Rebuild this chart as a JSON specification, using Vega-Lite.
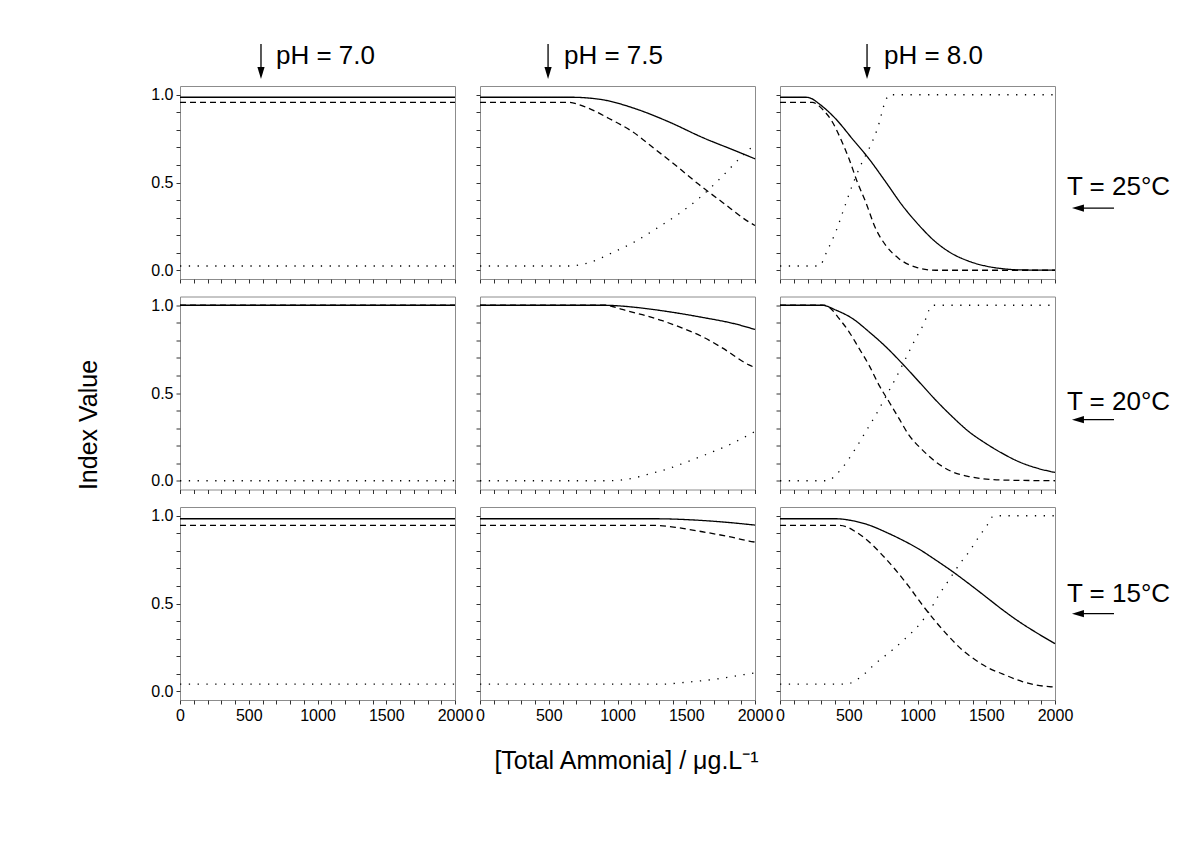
{
  "$schema": "https://vega.github.io/schema/vega-lite/v6.json",
  "padding": {"left": 76, "top": 42, "right": 5, "bottom": 5},
  "background": "white",
  "datasets": {
    "curves": [
      {"pH":"7.0","T":25,"s":"A","x":0,"v":0.986},{"pH":"7.0","T":25,"s":"A","x":2000,"v":0.986},
      {"pH":"7.0","T":25,"s":"B","x":0,"v":0.957},{"pH":"7.0","T":25,"s":"B","x":2000,"v":0.957},
      {"pH":"7.0","T":25,"s":"C","x":0,"v":0.024},{"pH":"7.0","T":25,"s":"C","x":2000,"v":0.024},

      {"pH":"7.5","T":25,"s":"A","x":0,"v":0.986},{"pH":"7.5","T":25,"s":"A","x":660,"v":0.986},{"pH":"7.5","T":25,"s":"A","x":780,"v":0.982},{"pH":"7.5","T":25,"s":"A","x":890,"v":0.972},{"pH":"7.5","T":25,"s":"A","x":1132,"v":0.92},{"pH":"7.5","T":25,"s":"A","x":1375,"v":0.845},{"pH":"7.5","T":25,"s":"A","x":1617,"v":0.757},{"pH":"7.5","T":25,"s":"A","x":1860,"v":0.68},{"pH":"7.5","T":25,"s":"A","x":2000,"v":0.635},
      {"pH":"7.5","T":25,"s":"B","x":0,"v":0.957},{"pH":"7.5","T":25,"s":"B","x":640,"v":0.957},{"pH":"7.5","T":25,"s":"B","x":769,"v":0.93},{"pH":"7.5","T":25,"s":"B","x":938,"v":0.865},{"pH":"7.5","T":25,"s":"B","x":1108,"v":0.79},{"pH":"7.5","T":25,"s":"B","x":1265,"v":0.695},{"pH":"7.5","T":25,"s":"B","x":1435,"v":0.59},{"pH":"7.5","T":25,"s":"B","x":1593,"v":0.488},{"pH":"7.5","T":25,"s":"B","x":1762,"v":0.388},{"pH":"7.5","T":25,"s":"B","x":1956,"v":0.275},{"pH":"7.5","T":25,"s":"B","x":2000,"v":0.255},
      {"pH":"7.5","T":25,"s":"C","x":0,"v":0.024},{"pH":"7.5","T":25,"s":"C","x":640,"v":0.024},{"pH":"7.5","T":25,"s":"C","x":793,"v":0.043},{"pH":"7.5","T":25,"s":"C","x":962,"v":0.1},{"pH":"7.5","T":25,"s":"C","x":1132,"v":0.165},{"pH":"7.5","T":25,"s":"C","x":1277,"v":0.235},{"pH":"7.5","T":25,"s":"C","x":1447,"v":0.322},{"pH":"7.5","T":25,"s":"C","x":1593,"v":0.41},{"pH":"7.5","T":25,"s":"C","x":1762,"v":0.535},{"pH":"7.5","T":25,"s":"C","x":1860,"v":0.615},{"pH":"7.5","T":25,"s":"C","x":1976,"v":0.7},{"pH":"7.5","T":25,"s":"C","x":2000,"v":0.715},

      {"pH":"8.0","T":25,"s":"A","x":0,"v":0.986},{"pH":"8.0","T":25,"s":"A","x":187,"v":0.986},{"pH":"8.0","T":25,"s":"A","x":230,"v":0.978},{"pH":"8.0","T":25,"s":"A","x":284,"v":0.949},{"pH":"8.0","T":25,"s":"A","x":405,"v":0.863},{"pH":"8.0","T":25,"s":"A","x":526,"v":0.749},{"pH":"8.0","T":25,"s":"A","x":647,"v":0.635},{"pH":"8.0","T":25,"s":"A","x":769,"v":0.503},{"pH":"8.0","T":25,"s":"A","x":889,"v":0.37},{"pH":"8.0","T":25,"s":"A","x":1011,"v":0.256},{"pH":"8.0","T":25,"s":"A","x":1132,"v":0.161},{"pH":"8.0","T":25,"s":"A","x":1253,"v":0.094},{"pH":"8.0","T":25,"s":"A","x":1375,"v":0.051},{"pH":"8.0","T":25,"s":"A","x":1496,"v":0.024},{"pH":"8.0","T":25,"s":"A","x":1617,"v":0.009},{"pH":"8.0","T":25,"s":"A","x":1738,"v":0.002},{"pH":"8.0","T":25,"s":"A","x":2000,"v":0.0},
      {"pH":"8.0","T":25,"s":"B","x":0,"v":0.957},{"pH":"8.0","T":25,"s":"B","x":235,"v":0.957},{"pH":"8.0","T":25,"s":"B","x":270,"v":0.945},{"pH":"8.0","T":25,"s":"B","x":308,"v":0.918},{"pH":"8.0","T":25,"s":"B","x":381,"v":0.845},{"pH":"8.0","T":25,"s":"B","x":441,"v":0.749},{"pH":"8.0","T":25,"s":"B","x":502,"v":0.635},{"pH":"8.0","T":25,"s":"B","x":562,"v":0.503},{"pH":"8.0","T":25,"s":"B","x":623,"v":0.389},{"pH":"8.0","T":25,"s":"B","x":696,"v":0.237},{"pH":"8.0","T":25,"s":"B","x":769,"v":0.142},{"pH":"8.0","T":25,"s":"B","x":865,"v":0.066},{"pH":"8.0","T":25,"s":"B","x":987,"v":0.018},{"pH":"8.0","T":25,"s":"B","x":1132,"v":0.0},{"pH":"8.0","T":25,"s":"B","x":2000,"v":0.0},
      {"pH":"8.0","T":25,"s":"C","x":0,"v":0.024},{"pH":"8.0","T":25,"s":"C","x":284,"v":0.024},{"pH":"8.0","T":25,"s":"C","x":344,"v":0.113},{"pH":"8.0","T":25,"s":"C","x":405,"v":0.218},{"pH":"8.0","T":25,"s":"C","x":465,"v":0.35},{"pH":"8.0","T":25,"s":"C","x":526,"v":0.484},{"pH":"8.0","T":25,"s":"C","x":587,"v":0.598},{"pH":"8.0","T":25,"s":"C","x":647,"v":0.692},{"pH":"8.0","T":25,"s":"C","x":708,"v":0.806},{"pH":"8.0","T":25,"s":"C","x":769,"v":0.968},{"pH":"8.0","T":25,"s":"C","x":793,"v":1.0},{"pH":"8.0","T":25,"s":"C","x":2000,"v":1.0},

      {"pH":"7.0","T":20,"s":"A","x":0,"v":1.0},{"pH":"7.0","T":20,"s":"A","x":2000,"v":1.0},
      {"pH":"7.0","T":20,"s":"B","x":0,"v":1.0},{"pH":"7.0","T":20,"s":"B","x":2000,"v":1.0},
      {"pH":"7.0","T":20,"s":"C","x":0,"v":0.0},{"pH":"7.0","T":20,"s":"C","x":2000,"v":0.0},

      {"pH":"7.5","T":20,"s":"A","x":0,"v":1.0},{"pH":"7.5","T":20,"s":"A","x":914,"v":1.0},{"pH":"7.5","T":20,"s":"A","x":1020,"v":0.996},{"pH":"7.5","T":20,"s":"A","x":1132,"v":0.988},{"pH":"7.5","T":20,"s":"A","x":1375,"v":0.963},{"pH":"7.5","T":20,"s":"A","x":1617,"v":0.931},{"pH":"7.5","T":20,"s":"A","x":1860,"v":0.893},{"pH":"7.5","T":20,"s":"A","x":2000,"v":0.862},
      {"pH":"7.5","T":20,"s":"B","x":0,"v":1.0},{"pH":"7.5","T":20,"s":"B","x":914,"v":1.0},{"pH":"7.5","T":20,"s":"B","x":1035,"v":0.976},{"pH":"7.5","T":20,"s":"B","x":1180,"v":0.946},{"pH":"7.5","T":20,"s":"B","x":1326,"v":0.912},{"pH":"7.5","T":20,"s":"B","x":1472,"v":0.87},{"pH":"7.5","T":20,"s":"B","x":1617,"v":0.821},{"pH":"7.5","T":20,"s":"B","x":1762,"v":0.757},{"pH":"7.5","T":20,"s":"B","x":1956,"v":0.66},{"pH":"7.5","T":20,"s":"B","x":2000,"v":0.645},
      {"pH":"7.5","T":20,"s":"C","x":0,"v":0.0},{"pH":"7.5","T":20,"s":"C","x":938,"v":0.0},{"pH":"7.5","T":20,"s":"C","x":1084,"v":0.01},{"pH":"7.5","T":20,"s":"C","x":1229,"v":0.038},{"pH":"7.5","T":20,"s":"C","x":1375,"v":0.07},{"pH":"7.5","T":20,"s":"C","x":1520,"v":0.112},{"pH":"7.5","T":20,"s":"C","x":1665,"v":0.156},{"pH":"7.5","T":20,"s":"C","x":1811,"v":0.204},{"pH":"7.5","T":20,"s":"C","x":1976,"v":0.27},{"pH":"7.5","T":20,"s":"C","x":2000,"v":0.28},

      {"pH":"8.0","T":20,"s":"A","x":0,"v":1.0},{"pH":"8.0","T":20,"s":"A","x":308,"v":1.0},{"pH":"8.0","T":20,"s":"A","x":405,"v":0.973},{"pH":"8.0","T":20,"s":"A","x":526,"v":0.925},{"pH":"8.0","T":20,"s":"A","x":647,"v":0.849},{"pH":"8.0","T":20,"s":"A","x":769,"v":0.764},{"pH":"8.0","T":20,"s":"A","x":889,"v":0.668},{"pH":"8.0","T":20,"s":"A","x":1011,"v":0.564},{"pH":"8.0","T":20,"s":"A","x":1132,"v":0.46},{"pH":"8.0","T":20,"s":"A","x":1253,"v":0.365},{"pH":"8.0","T":20,"s":"A","x":1375,"v":0.279},{"pH":"8.0","T":20,"s":"A","x":1496,"v":0.213},{"pH":"8.0","T":20,"s":"A","x":1617,"v":0.156},{"pH":"8.0","T":20,"s":"A","x":1738,"v":0.108},{"pH":"8.0","T":20,"s":"A","x":1860,"v":0.074},{"pH":"8.0","T":20,"s":"A","x":2000,"v":0.047},
      {"pH":"8.0","T":20,"s":"B","x":0,"v":1.0},{"pH":"8.0","T":20,"s":"B","x":323,"v":1.0},{"pH":"8.0","T":20,"s":"B","x":370,"v":0.98},{"pH":"8.0","T":20,"s":"B","x":429,"v":0.925},{"pH":"8.0","T":20,"s":"B","x":502,"v":0.849},{"pH":"8.0","T":20,"s":"B","x":575,"v":0.754},{"pH":"8.0","T":20,"s":"B","x":647,"v":0.659},{"pH":"8.0","T":20,"s":"B","x":720,"v":0.545},{"pH":"8.0","T":20,"s":"B","x":793,"v":0.45},{"pH":"8.0","T":20,"s":"B","x":865,"v":0.355},{"pH":"8.0","T":20,"s":"B","x":938,"v":0.26},{"pH":"8.0","T":20,"s":"B","x":1035,"v":0.176},{"pH":"8.0","T":20,"s":"B","x":1132,"v":0.108},{"pH":"8.0","T":20,"s":"B","x":1253,"v":0.051},{"pH":"8.0","T":20,"s":"B","x":1375,"v":0.024},{"pH":"8.0","T":20,"s":"B","x":1617,"v":0.004},{"pH":"8.0","T":20,"s":"B","x":2000,"v":0.0},
      {"pH":"8.0","T":20,"s":"C","x":0,"v":0.0},{"pH":"8.0","T":20,"s":"C","x":347,"v":0.0},{"pH":"8.0","T":20,"s":"C","x":405,"v":0.032},{"pH":"8.0","T":20,"s":"C","x":478,"v":0.099},{"pH":"8.0","T":20,"s":"C","x":550,"v":0.184},{"pH":"8.0","T":20,"s":"C","x":623,"v":0.279},{"pH":"8.0","T":20,"s":"C","x":696,"v":0.374},{"pH":"8.0","T":20,"s":"C","x":769,"v":0.479},{"pH":"8.0","T":20,"s":"C","x":841,"v":0.583},{"pH":"8.0","T":20,"s":"C","x":914,"v":0.697},{"pH":"8.0","T":20,"s":"C","x":987,"v":0.811},{"pH":"8.0","T":20,"s":"C","x":1047,"v":0.897},{"pH":"8.0","T":20,"s":"C","x":1096,"v":0.991},{"pH":"8.0","T":20,"s":"C","x":1110,"v":1.0},{"pH":"8.0","T":20,"s":"C","x":2000,"v":1.0},

      {"pH":"7.0","T":15,"s":"A","x":0,"v":0.983},{"pH":"7.0","T":15,"s":"A","x":2000,"v":0.983},
      {"pH":"7.0","T":15,"s":"B","x":0,"v":0.945},{"pH":"7.0","T":15,"s":"B","x":2000,"v":0.945},
      {"pH":"7.0","T":15,"s":"C","x":0,"v":0.04},{"pH":"7.0","T":15,"s":"C","x":2000,"v":0.04},

      {"pH":"7.5","T":15,"s":"A","x":0,"v":0.983},{"pH":"7.5","T":15,"s":"A","x":1277,"v":0.983},{"pH":"7.5","T":15,"s":"A","x":1503,"v":0.978},{"pH":"7.5","T":15,"s":"A","x":1745,"v":0.966},{"pH":"7.5","T":15,"s":"A","x":2000,"v":0.947},
      {"pH":"7.5","T":15,"s":"B","x":0,"v":0.945},{"pH":"7.5","T":15,"s":"B","x":1277,"v":0.945},{"pH":"7.5","T":15,"s":"B","x":1422,"v":0.934},{"pH":"7.5","T":15,"s":"B","x":1617,"v":0.909},{"pH":"7.5","T":15,"s":"B","x":1811,"v":0.881},{"pH":"7.5","T":15,"s":"B","x":1956,"v":0.856},{"pH":"7.5","T":15,"s":"B","x":2000,"v":0.85},
      {"pH":"7.5","T":15,"s":"C","x":0,"v":0.04},{"pH":"7.5","T":15,"s":"C","x":1325,"v":0.04},{"pH":"7.5","T":15,"s":"C","x":1471,"v":0.049},{"pH":"7.5","T":15,"s":"C","x":1617,"v":0.06},{"pH":"7.5","T":15,"s":"C","x":1762,"v":0.074},{"pH":"7.5","T":15,"s":"C","x":1907,"v":0.093},{"pH":"7.5","T":15,"s":"C","x":2000,"v":0.105},

      {"pH":"8.0","T":15,"s":"A","x":0,"v":0.983},{"pH":"8.0","T":15,"s":"A","x":405,"v":0.983},{"pH":"8.0","T":15,"s":"A","x":526,"v":0.972},{"pH":"8.0","T":15,"s":"A","x":647,"v":0.947},{"pH":"8.0","T":15,"s":"A","x":769,"v":0.907},{"pH":"8.0","T":15,"s":"A","x":889,"v":0.862},{"pH":"8.0","T":15,"s":"A","x":1011,"v":0.81},{"pH":"8.0","T":15,"s":"A","x":1132,"v":0.748},{"pH":"8.0","T":15,"s":"A","x":1253,"v":0.683},{"pH":"8.0","T":15,"s":"A","x":1375,"v":0.612},{"pH":"8.0","T":15,"s":"A","x":1496,"v":0.539},{"pH":"8.0","T":15,"s":"A","x":1617,"v":0.465},{"pH":"8.0","T":15,"s":"A","x":1738,"v":0.397},{"pH":"8.0","T":15,"s":"A","x":1860,"v":0.336},{"pH":"8.0","T":15,"s":"A","x":2000,"v":0.271},
      {"pH":"8.0","T":15,"s":"B","x":0,"v":0.945},{"pH":"8.0","T":15,"s":"B","x":427,"v":0.945},{"pH":"8.0","T":15,"s":"B","x":480,"v":0.938},{"pH":"8.0","T":15,"s":"B","x":550,"v":0.909},{"pH":"8.0","T":15,"s":"B","x":647,"v":0.852},{"pH":"8.0","T":15,"s":"B","x":744,"v":0.776},{"pH":"8.0","T":15,"s":"B","x":841,"v":0.691},{"pH":"8.0","T":15,"s":"B","x":938,"v":0.596},{"pH":"8.0","T":15,"s":"B","x":1035,"v":0.492},{"pH":"8.0","T":15,"s":"B","x":1132,"v":0.397},{"pH":"8.0","T":15,"s":"B","x":1229,"v":0.311},{"pH":"8.0","T":15,"s":"B","x":1326,"v":0.235},{"pH":"8.0","T":15,"s":"B","x":1422,"v":0.178},{"pH":"8.0","T":15,"s":"B","x":1520,"v":0.131},{"pH":"8.0","T":15,"s":"B","x":1617,"v":0.099},{"pH":"8.0","T":15,"s":"B","x":1762,"v":0.055},{"pH":"8.0","T":15,"s":"B","x":1860,"v":0.036},{"pH":"8.0","T":15,"s":"B","x":1956,"v":0.026},{"pH":"8.0","T":15,"s":"B","x":2000,"v":0.024},
      {"pH":"8.0","T":15,"s":"C","x":0,"v":0.04},{"pH":"8.0","T":15,"s":"C","x":478,"v":0.04},{"pH":"8.0","T":15,"s":"C","x":575,"v":0.074},{"pH":"8.0","T":15,"s":"C","x":696,"v":0.159},{"pH":"8.0","T":15,"s":"C","x":817,"v":0.235},{"pH":"8.0","T":15,"s":"C","x":914,"v":0.302},{"pH":"8.0","T":15,"s":"C","x":1011,"v":0.378},{"pH":"8.0","T":15,"s":"C","x":1084,"v":0.454},{"pH":"8.0","T":15,"s":"C","x":1156,"v":0.549},{"pH":"8.0","T":15,"s":"C","x":1229,"v":0.634},{"pH":"8.0","T":15,"s":"C","x":1302,"v":0.72},{"pH":"8.0","T":15,"s":"C","x":1375,"v":0.795},{"pH":"8.0","T":15,"s":"C","x":1447,"v":0.881},{"pH":"8.0","T":15,"s":"C","x":1508,"v":0.948},{"pH":"8.0","T":15,"s":"C","x":1545,"v":0.995},{"pH":"8.0","T":15,"s":"C","x":1560,"v":1.0},{"pH":"8.0","T":15,"s":"C","x":2000,"v":1.0}
    ]
  },
  "columns": 3,
  "spacing": {"row": 17.5, "column": 25},
  "bounds": "flush",
  "concat": [
    {
      "width": 275, "height": 193,
      "title": {"text": "pH = 7.0", "dx": 8},
      "layer": [
        {"data": {"name": "curves"}, "transform": [{"filter": "datum.pH === '7.0' && datum.T === 25"}],
         "mark": {"type": "line", "color": "#000", "strokeWidth": 1.3, "interpolate": "monotone"},
         "encoding": {
           "x": {"field": "x", "type": "quantitative", "scale": {"domain": [0, 2000], "nice": false}, "axis": {"labels": false, "title": null}},
           "y": {"field": "v", "type": "quantitative", "scale": {"domain": [-0.05, 1.05], "nice": false, "zero": false}, "axis": {"title": null}},
           "strokeDash": {"field": "s", "type": "nominal", "scale": {"domain": ["A", "B", "C"], "range": [[1, 0], [6, 4], [1.3, 7.5]]}, "legend": null}
         }},
        {"data": {"values": [{}]}, "mark": {"type": "rule", "color": "#000", "strokeWidth": 1.3},
         "encoding": {"x": {"datum": 589}, "y": {"datum": 1.29}, "y2": {"datum": 1.12}}},
        {"data": {"values": [{}]}, "mark": {"type": "point", "shape": "M-0.6,-1L0.6,-1L0,1Z", "filled": true, "color": "#000", "opacity": 1, "size": 144},
         "encoding": {"x": {"datum": 589}, "y": {"datum": 1.124}}}
      ]
    },
    {
      "width": 275, "height": 193,
      "title": {"text": "pH = 7.5", "dx": -4},
      "layer": [
        {"data": {"name": "curves"}, "transform": [{"filter": "datum.pH === '7.5' && datum.T === 25"}],
         "mark": {"type": "line", "color": "#000", "strokeWidth": 1.3, "interpolate": "monotone"},
         "encoding": {
           "x": {"field": "x", "type": "quantitative", "scale": {"domain": [0, 2000], "nice": false}, "axis": {"labels": false, "title": null}},
           "y": {"field": "v", "type": "quantitative", "scale": {"domain": [-0.05, 1.05], "nice": false, "zero": false}, "axis": {"labels": false, "title": null}},
           "strokeDash": {"field": "s", "type": "nominal", "scale": {"domain": ["A", "B", "C"], "range": [[1, 0], [6, 4], [1.3, 7.5]]}, "legend": null}
         }},
        {"data": {"values": [{}]}, "mark": {"type": "rule", "color": "#000", "strokeWidth": 1.3},
         "encoding": {"x": {"datum": 495}, "y": {"datum": 1.29}, "y2": {"datum": 1.12}}},
        {"data": {"values": [{}]}, "mark": {"type": "point", "shape": "M-0.6,-1L0.6,-1L0,1Z", "filled": true, "color": "#000", "opacity": 1, "size": 144},
         "encoding": {"x": {"datum": 495}, "y": {"datum": 1.124}}}
      ]
    },
    {
      "width": 275, "height": 193,
      "title": {"text": "pH = 8.0", "dx": 16},
      "layer": [
        {"data": {"name": "curves"}, "transform": [{"filter": "datum.pH === '8.0' && datum.T === 25"}],
         "mark": {"type": "line", "color": "#000", "strokeWidth": 1.3, "interpolate": "monotone"},
         "encoding": {
           "x": {"field": "x", "type": "quantitative", "scale": {"domain": [0, 2000], "nice": false}, "axis": {"labels": false, "title": null}},
           "y": {"field": "v", "type": "quantitative", "scale": {"domain": [-0.05, 1.05], "nice": false, "zero": false}, "axis": {"labels": false, "title": null}},
           "strokeDash": {"field": "s", "type": "nominal", "scale": {"domain": ["A", "B", "C"], "range": [[1, 0], [6, 4], [1.3, 7.5]]}, "legend": null}
         }},
        {"data": {"values": [{}]}, "mark": {"type": "rule", "color": "#000", "strokeWidth": 1.3},
         "encoding": {"x": {"datum": 633}, "y": {"datum": 1.29}, "y2": {"datum": 1.12}}},
        {"data": {"values": [{}]}, "mark": {"type": "point", "shape": "M-0.6,-1L0.6,-1L0,1Z", "filled": true, "color": "#000", "opacity": 1, "size": 144},
         "encoding": {"x": {"datum": 633}, "y": {"datum": 1.124}}},
        {"data": {"values": [{}]}, "mark": {"type": "text", "align": "left", "baseline": "alphabetic", "fontSize": 26, "font": "Liberation Sans", "color": "#000", "text": "T = 25°C"},
         "encoding": {"x": {"datum": 2087}, "y": {"datum": 0.428}}},
        {"data": {"values": [{}]}, "mark": {"type": "rule", "color": "#000", "strokeWidth": 1.3},
         "encoding": {"x": {"datum": 2165}, "x2": {"datum": 2429}, "y": {"datum": 0.354}}},
        {"data": {"values": [{}]}, "mark": {"type": "point", "shape": "M-1,0L1,-0.6L1,0.6Z", "filled": true, "color": "#000", "opacity": 1, "size": 144},
         "encoding": {"x": {"datum": 2167}, "y": {"datum": 0.354}}}
      ]
    },
    {
      "width": 275, "height": 193,
      "layer": [
        {"data": {"name": "curves"}, "transform": [{"filter": "datum.pH === '7.0' && datum.T === 20"}],
         "mark": {"type": "line", "color": "#000", "strokeWidth": 1.3, "interpolate": "monotone"},
         "encoding": {
           "x": {"field": "x", "type": "quantitative", "scale": {"domain": [0, 2000], "nice": false}, "axis": {"labels": false, "title": null}},
           "y": {"field": "v", "type": "quantitative", "scale": {"domain": [-0.05, 1.05], "nice": false, "zero": false}, "axis": {"title": "Index Value", "titlePadding": 49, "titleY": 128}},
           "strokeDash": {"field": "s", "type": "nominal", "scale": {"domain": ["A", "B", "C"], "range": [[1, 0], [6, 4], [1.3, 7.5]]}, "legend": null}
         }}
      ]
    },
    {
      "width": 275, "height": 193,
      "layer": [
        {"data": {"name": "curves"}, "transform": [{"filter": "datum.pH === '7.5' && datum.T === 20"}],
         "mark": {"type": "line", "color": "#000", "strokeWidth": 1.3, "interpolate": "monotone"},
         "encoding": {
           "x": {"field": "x", "type": "quantitative", "scale": {"domain": [0, 2000], "nice": false}, "axis": {"labels": false, "title": null}},
           "y": {"field": "v", "type": "quantitative", "scale": {"domain": [-0.05, 1.05], "nice": false, "zero": false}, "axis": {"labels": false, "title": null}},
           "strokeDash": {"field": "s", "type": "nominal", "scale": {"domain": ["A", "B", "C"], "range": [[1, 0], [6, 4], [1.3, 7.5]]}, "legend": null}
         }}
      ]
    },
    {
      "width": 275, "height": 193,
      "layer": [
        {"data": {"name": "curves"}, "transform": [{"filter": "datum.pH === '8.0' && datum.T === 20"}],
         "mark": {"type": "line", "color": "#000", "strokeWidth": 1.3, "interpolate": "monotone"},
         "encoding": {
           "x": {"field": "x", "type": "quantitative", "scale": {"domain": [0, 2000], "nice": false}, "axis": {"labels": false, "title": null}},
           "y": {"field": "v", "type": "quantitative", "scale": {"domain": [-0.05, 1.05], "nice": false, "zero": false}, "axis": {"labels": false, "title": null}},
           "strokeDash": {"field": "s", "type": "nominal", "scale": {"domain": ["A", "B", "C"], "range": [[1, 0], [6, 4], [1.3, 7.5]]}, "legend": null}
         }},
        {"data": {"values": [{}]}, "mark": {"type": "text", "align": "left", "baseline": "alphabetic", "fontSize": 26, "font": "Liberation Sans", "color": "#000", "text": "T = 20°C"},
         "encoding": {"x": {"datum": 2087}, "y": {"datum": 0.405}}},
        {"data": {"values": [{}]}, "mark": {"type": "rule", "color": "#000", "strokeWidth": 1.3},
         "encoding": {"x": {"datum": 2165}, "x2": {"datum": 2429}, "y": {"datum": 0.348}}},
        {"data": {"values": [{}]}, "mark": {"type": "point", "shape": "M-1,0L1,-0.6L1,0.6Z", "filled": true, "color": "#000", "opacity": 1, "size": 144},
         "encoding": {"x": {"datum": 2167}, "y": {"datum": 0.348}}}
      ]
    },
    {
      "width": 275, "height": 193,
      "layer": [
        {"data": {"name": "curves"}, "transform": [{"filter": "datum.pH === '7.0' && datum.T === 15"}],
         "mark": {"type": "line", "color": "#000", "strokeWidth": 1.3, "interpolate": "monotone"},
         "encoding": {
           "x": {"field": "x", "type": "quantitative", "scale": {"domain": [0, 2000], "nice": false}, "axis": {"title": null}},
           "y": {"field": "v", "type": "quantitative", "scale": {"domain": [-0.05, 1.05], "nice": false, "zero": false}, "axis": {"title": null}},
           "strokeDash": {"field": "s", "type": "nominal", "scale": {"domain": ["A", "B", "C"], "range": [[1, 0], [6, 4], [1.3, 7.5]]}, "legend": null}
         }}
      ]
    },
    {
      "width": 275, "height": 193,
      "layer": [
        {"data": {"name": "curves"}, "transform": [{"filter": "datum.pH === '7.5' && datum.T === 15"}],
         "mark": {"type": "line", "color": "#000", "strokeWidth": 1.3, "interpolate": "monotone"},
         "encoding": {
           "x": {"field": "x", "type": "quantitative", "scale": {"domain": [0, 2000], "nice": false}, "axis": {"title": "[Total Ammonia] / μg.L⁻¹", "titlePadding": 25, "titleX": 146}},
           "y": {"field": "v", "type": "quantitative", "scale": {"domain": [-0.05, 1.05], "nice": false, "zero": false}, "axis": {"labels": false, "title": null}},
           "strokeDash": {"field": "s", "type": "nominal", "scale": {"domain": ["A", "B", "C"], "range": [[1, 0], [6, 4], [1.3, 7.5]]}, "legend": null}
         }}
      ]
    },
    {
      "width": 275, "height": 193,
      "layer": [
        {"data": {"name": "curves"}, "transform": [{"filter": "datum.pH === '8.0' && datum.T === 15"}],
         "mark": {"type": "line", "color": "#000", "strokeWidth": 1.3, "interpolate": "monotone"},
         "encoding": {
           "x": {"field": "x", "type": "quantitative", "scale": {"domain": [0, 2000], "nice": false}, "axis": {"title": null}},
           "y": {"field": "v", "type": "quantitative", "scale": {"domain": [-0.05, 1.05], "nice": false, "zero": false}, "axis": {"labels": false, "title": null}},
           "strokeDash": {"field": "s", "type": "nominal", "scale": {"domain": ["A", "B", "C"], "range": [[1, 0], [6, 4], [1.3, 7.5]]}, "legend": null}
         }},
        {"data": {"values": [{}]}, "mark": {"type": "text", "align": "left", "baseline": "alphabetic", "fontSize": 26, "font": "Liberation Sans", "color": "#000", "text": "T = 15°C"},
         "encoding": {"x": {"datum": 2087}, "y": {"datum": 0.51}}},
        {"data": {"values": [{}]}, "mark": {"type": "rule", "color": "#000", "strokeWidth": 1.3},
         "encoding": {"x": {"datum": 2165}, "x2": {"datum": 2429}, "y": {"datum": 0.442}}},
        {"data": {"values": [{}]}, "mark": {"type": "point", "shape": "M-1,0L1,-0.6L1,0.6Z", "filled": true, "color": "#000", "opacity": 1, "size": 144},
         "encoding": {"x": {"datum": 2167}, "y": {"datum": 0.442}}}
      ]
    }
  ],
  "config": {
    "font": "Liberation Sans",
    "view": {"stroke": "#8c8c8c", "strokeWidth": 1},
    "axis": {"domain": false, "grid": false, "labelFont": "Liberation Sans", "labelFontSize": 16, "labelColor": "#000", "tickColor": "#333", "tickWidth": 1, "tickSize": 4, "labelFlush": false, "labelOverlap": false, "labelPadding": 3, "titleFont": "Liberation Sans", "titleFontSize": 25, "titleFontWeight": "normal", "titleColor": "#000"},
    "axisX": {"tickCount": 20, "labelExpr": "datum.value % 500 === 0 ? format(datum.value, 'd') : ''"},
    "axisY": {"tickCount": 11, "labelExpr": "datum.value % 0.5 === 0 ? format(datum.value, '.1f') : ''"},
    "title": {"font": "Liberation Sans", "fontSize": 26, "fontWeight": "normal", "color": "#000", "anchor": "middle", "offset": -26}
  }
}
